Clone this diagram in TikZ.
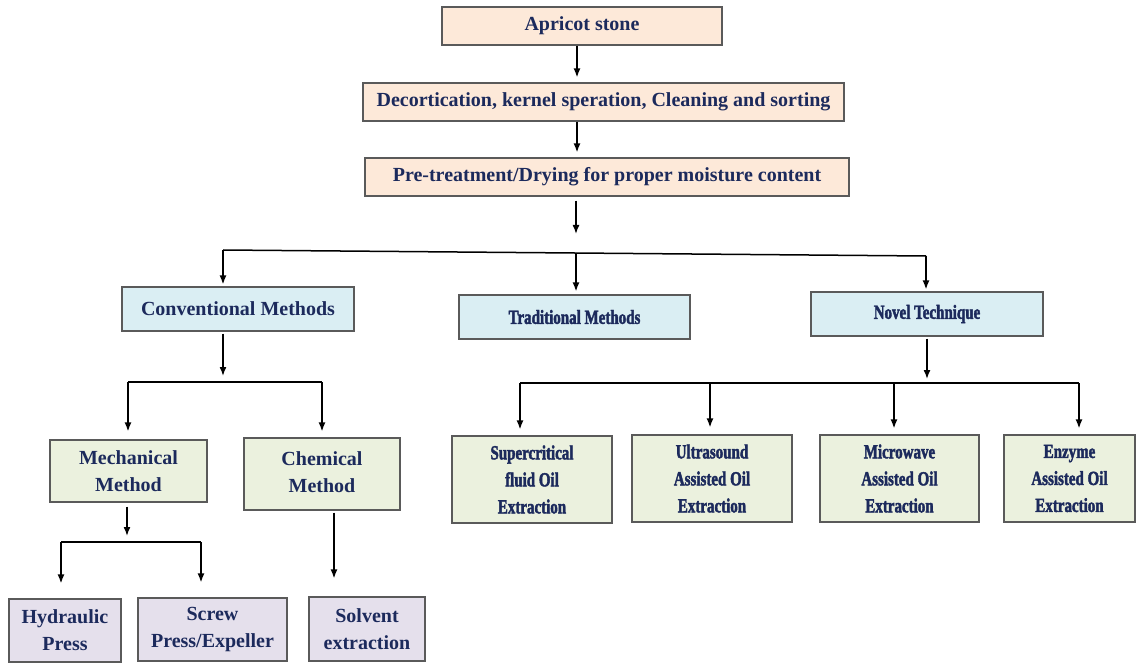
\documentclass[tikz,border=0pt]{standalone}
\usepackage{fontspec}
\setmainfont{Liberation Serif}
\newfontfamily\narrowfont{Liberation Serif Bold}[FakeStretch=0.75, FakeBold=2]
\usetikzlibrary{arrows.meta}
\definecolor{peach}{HTML}{FDE9D9}
\definecolor{lblue}{HTML}{DAEEF3}
\definecolor{lgreen}{HTML}{EBF1DE}
\definecolor{lilac}{HTML}{E5E0EC}
\definecolor{navy}{HTML}{1C2A5C}
\definecolor{edge}{HTML}{5A5A5A}
\begin{document}
\begin{tikzpicture}[x=1pt,y=-1pt,
  box/.style={draw=edge, line width=1.2pt, inner sep=0pt, align=center,
    font=\bfseries\fontsize{20}{27}\selectfont, text=navy},
  nbox/.style={box, font=\narrowfont\fontsize{20}{27}\selectfont},
  arr/.style={line width=1.5pt, -{Latex[length=9pt,width=7pt]}},
  ln/.style={line width=1.5pt}]
\useasboundingbox[fill=white] (0,0) rectangle (1136,663);

% top chain
\node[box, fill=peach, minimum width=280pt, minimum height=38pt] (apricot) at (582,26) {Apricot stone};
\node[box, fill=peach, minimum width=481pt, minimum height=38pt] (decort) at (603.5,102) {Decortication, kernel speration, Cleaning and sorting};
\node[box, fill=peach, minimum width=484pt, minimum height=38pt] (pre) at (607,177) {Pre-treatment/Drying for proper moisture content};

% second level
\node[box, fill=lblue, minimum width=232pt, minimum height=44pt] (conv) at (238,309) {Conventional Methods};
\node[nbox, fill=lblue, minimum width=231pt, minimum height=44pt] (trad) at (574.5,317) {Traditional Methods};
\node[nbox, fill=lblue, minimum width=232pt, minimum height=44pt] (novel) at (927,314) {Novel Technique};

% third level
\node[box, fill=lgreen, minimum width=157pt, minimum height=62pt] (mech) at (128.5,471) {Mechanical\\Method};
\node[box, fill=lgreen, minimum width=156pt, minimum height=72pt] (chem) at (322,474) {\raisebox{8pt}{\begin{tabular}{@{}c@{}}Chemical\\Method\end{tabular}}};
\node[nbox, fill=lgreen, minimum width=160pt, minimum height=87pt] (scf) at (532,479.5) {Supercritical\\fluid Oil\\Extraction};
\node[nbox, fill=lgreen, minimum width=160pt, minimum height=87pt] (ultra) at (712,478.5) {Ultrasound\\Assisted Oil\\Extraction};
\node[nbox, fill=lgreen, minimum width=159pt, minimum height=87pt] (micro) at (899.5,478.5) {Microwave\\Assisted Oil\\Extraction};
\node[nbox, fill=lgreen, minimum width=131pt, minimum height=87pt] (enz) at (1069.5,478.5) {Enzyme\\Assisted Oil\\Extraction};

% fourth level
\node[box, fill=lilac, minimum width=112pt, minimum height=63pt] (hyd) at (65,630.5) {Hydraulic\\Press};
\node[box, fill=lilac, minimum width=149pt, minimum height=63pt] (screw) at (212.5,629.5) {Screw\\Press/Expeller};
\node[box, fill=lilac, minimum width=116pt, minimum height=64pt] (solv) at (367,629) {Solvent\\extraction};

% connectors: top chain
\coordinate (xa) at (577,0);
\draw[arr, shorten >=5pt] (apricot.south -| xa) -- (decort.north -| xa);
\draw[arr, shorten >=5pt] (decort.south -| xa) -- (pre.north -| xa);
\coordinate (t0) at (576,234);
\draw[arr, shorten <=4pt] (pre.south -| t0) -- (t0);

% main bus
\coordinate (bl) at (223,250);
\coordinate (bm) at (576,253);
\coordinate (br) at (926,256);
\draw[ln] (bl) -- (br);
\draw[arr, shorten >=2pt] (bl) -- (bl |- conv.north);
\draw[arr, shorten >=3pt] (bm) -- (bm |- trad.north);
\draw[arr, shorten >=2pt] (br) -- (br |- novel.north);

% conventional branch
\coordinate (cb) at (223,382);
\draw[arr, shorten <=2pt, shorten >=6pt] (conv.south -| cb) -- (cb);
\coordinate (cbl) at (128,382);
\coordinate (cbr) at (322,382);
\draw[ln] (cbl) -- (cbr);
\draw[arr, shorten >=8pt] (cbl) -- (cbl |- mech.north);
\draw[arr, shorten >=6pt] (cbr) -- (cbr |- chem.north);

% mechanical branch
\coordinate (mb) at (127,542);
\draw[arr, shorten <=4pt, shorten >=6pt] (mech.south -| mb) -- (mb);
\coordinate (mbl) at (61,542);
\coordinate (mbr) at (201,542);
\draw[ln] (mbl) -- (mbr);
\draw[arr, shorten >=15pt] (mbl) -- (mbl |- hyd.north);
\draw[arr, shorten >=15pt] (mbr) -- (mbr |- screw.north);

% chemical branch
\coordinate (chx) at (334,0);
\draw[arr, shorten <=2pt, shorten >=18pt] (chem.south -| chx) -- (solv.north -| chx);

% novel branch
\coordinate (nb) at (927,383);
\draw[arr, shorten <=2pt, shorten >=4pt] (novel.south -| nb) -- (nb);
\coordinate (nbl) at (520,383);
\coordinate (nbr) at (1079,383);
\coordinate (n2) at (710,383);
\coordinate (n3) at (894,383);
\draw[ln] (nbl) -- (nbr);
\draw[arr, shorten >=6pt] (nbl) -- (nbl |- scf.north);
\draw[arr, shorten >=7pt] (n2) -- (n2 |- ultra.north);
\draw[arr, shorten >=6pt] (n3) -- (n3 |- micro.north);
\draw[arr, shorten >=6pt] (nbr) -- (nbr |- enz.north);
\end{tikzpicture}
\end{document}
